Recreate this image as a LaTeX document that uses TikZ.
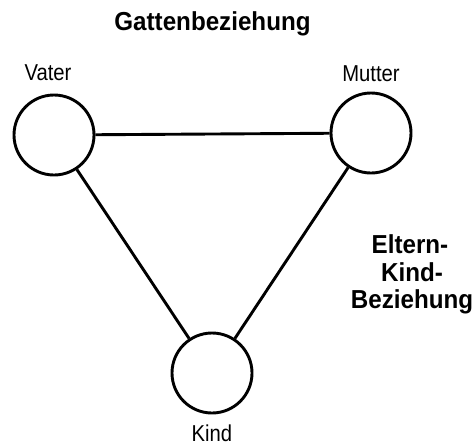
\documentclass[tikz,border=0pt]{standalone}
\usepackage{fontspec}
\setmainfont{Liberation Sans}
\newfontfamily\namefont[FakeStretch=0.88]{Liberation Sans}
\newfontfamily\relfont[FakeStretch=0.93]{Liberation Sans}
\begin{document}
\begin{tikzpicture}[x=1pt,y=-1pt,
  person/.style={circle, draw, line width=2.9pt, minimum size=80pt, inner sep=0pt},
  link/.style={line width=2.9pt},
  namelabel/.style={anchor=base, inner sep=0pt, font=\namefont\fontsize{23}{27}\selectfont},
  relation/.style={anchor=base, inner sep=0pt, font=\relfont\fontsize{26}{30}\selectfont\bfseries}]
\useasboundingbox (0,0) rectangle (476,447);
% family members
\node[person] (vater)  at (54,135) {};
\node[person] (mutter) at (371,133) {};
\node[person] (kind)   at (212,373) {};
% relations
\draw[link] (vater) -- (mutter);
\draw[link] (vater) -- (kind);
\draw[link] (mutter) -- (kind);
% labels
\node[namelabel] (lv) at (48,80) {Vater};
\node[namelabel] (lm) at (371,81) {Mutter};
\node[namelabel] (lk) at (212,441.5) {Kind};
\node[relation] (gatten) at (212.5,30.5) {Gattenbeziehung};
\node[relation] (e1) at (410,253) {Eltern-};
\node[relation] (e2) at (412,281) {Kind-};
\node[relation] (e3) at (412,308) {Beziehung};
\end{tikzpicture}
\end{document}
